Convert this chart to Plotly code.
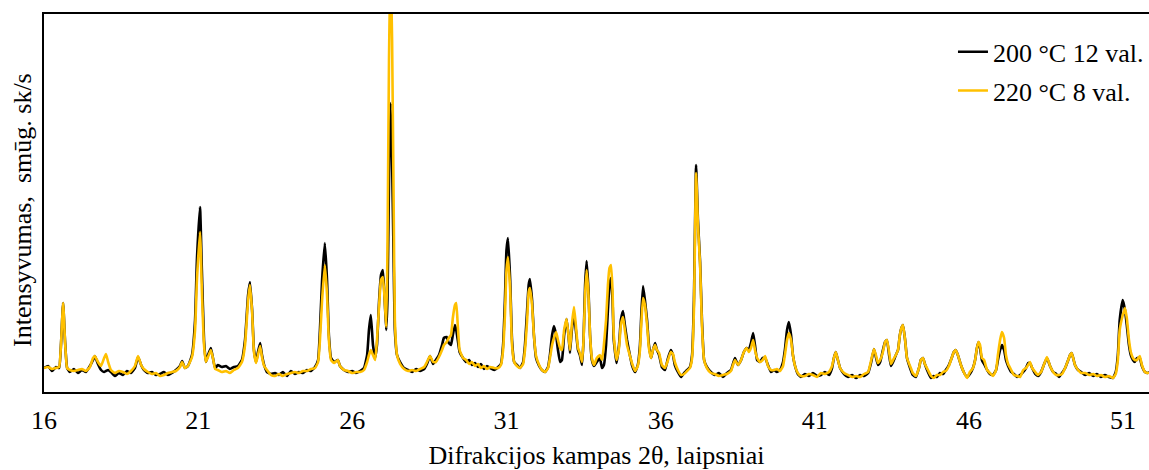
import plotly.graph_objects as go

# Diffraction angle 2θ (degrees)
two_theta = [
    16.00, 16.13, 16.26, 16.39, 16.49, 16.55, 16.62, 16.68, 16.75, 16.84, 16.97, 17.10, 17.23, 17.36, 17.49,
    17.59, 17.65, 17.75, 17.85, 17.95, 18.01, 18.08, 18.17, 18.30, 18.43, 18.56, 18.69, 18.82, 18.95, 19.05,
    19.15, 19.24, 19.37, 19.50, 19.63, 19.76, 19.89, 20.02, 20.15, 20.28, 20.41, 20.48, 20.57, 20.67, 20.80,
    20.90, 20.96, 21.06, 21.12, 21.19, 21.25, 21.32, 21.41, 21.48, 21.55, 21.64, 21.77, 21.90, 22.03, 22.16,
    22.29, 22.42, 22.52, 22.62, 22.68, 22.75, 22.81, 22.88, 22.94, 23.01, 23.07, 23.14, 23.23, 23.36, 23.49,
    23.62, 23.75, 23.88, 24.01, 24.14, 24.27, 24.40, 24.53, 24.66, 24.79, 24.89, 24.95, 25.02, 25.11, 25.18,
    25.24, 25.31, 25.41, 25.53, 25.60, 25.73, 25.86, 25.99, 26.12, 26.25, 26.38, 26.48, 26.54, 26.60, 26.67,
    26.74, 26.80, 26.87, 26.93, 26.99, 27.05, 27.10, 27.14, 27.19, 27.24, 27.29, 27.34, 27.38, 27.45, 27.55,
    27.68, 27.81, 27.94, 28.07, 28.20, 28.33, 28.42, 28.52, 28.62, 28.71, 28.81, 28.91, 28.97, 29.06, 29.13,
    29.20, 29.26, 29.33, 29.37, 29.42, 29.48, 29.59, 29.69, 29.79, 29.88, 29.98, 30.08, 30.17, 30.27, 30.37,
    30.47, 30.60, 30.73, 30.82, 30.89, 30.95, 31.00, 31.05, 31.12, 31.18, 31.25, 31.34, 31.44, 31.54, 31.60,
    31.67, 31.72, 31.76, 31.83, 31.89, 31.96, 32.06, 32.15, 32.25, 32.35, 32.41, 32.48, 32.54, 32.61, 32.67,
    32.74, 32.80, 32.87, 32.95, 33.01, 33.06, 33.12, 33.19, 33.25, 33.32, 33.38, 33.45, 33.50, 33.55, 33.60,
    33.66, 33.71, 33.77, 33.84, 33.93, 34.03, 34.10, 34.16, 34.23, 34.29, 34.34, 34.39, 34.44, 34.48, 34.57,
    34.65, 34.71, 34.78, 34.84, 34.91, 34.97, 35.07, 35.17, 35.26, 35.33, 35.38, 35.43, 35.49, 35.56, 35.62,
    35.69, 35.75, 35.82, 35.88, 35.95, 36.04, 36.14, 36.24, 36.33, 36.40, 36.46, 36.56, 36.66, 36.76, 36.86,
    36.95, 37.02, 37.08, 37.15, 37.21, 37.28, 37.34, 37.41, 37.50, 37.63, 37.76, 37.89, 38.02, 38.15, 38.28,
    38.41, 38.51, 38.61, 38.70, 38.79, 38.86, 38.93, 39.00, 39.06, 39.13, 39.22, 39.31, 39.39, 39.48, 39.58,
    39.68, 39.77, 39.87, 39.97, 40.03, 40.10, 40.16, 40.23, 40.29, 40.36, 40.45, 40.55, 40.68, 40.81, 40.94,
    41.07, 41.20, 41.33, 41.46, 41.56, 41.62, 41.68, 41.75, 41.82, 41.95, 42.08, 42.21, 42.34, 42.47, 42.60,
    42.73, 42.83, 42.92, 42.99, 43.05, 43.12, 43.21, 43.28, 43.34, 43.41, 43.47, 43.54, 43.63, 43.70, 43.76,
    43.81, 43.86, 43.93, 43.99, 44.09, 44.18, 44.28, 44.38, 44.44, 44.51, 44.57, 44.67, 44.77, 44.86, 44.96,
    45.06, 45.16, 45.25, 45.35, 45.44, 45.51, 45.57, 45.64, 45.74, 45.83, 45.94, 46.03, 46.13, 46.20, 46.26,
    46.31, 46.36, 46.42, 46.49, 46.59, 46.68, 46.78, 46.88, 46.94, 47.01, 47.07, 47.14, 47.20, 47.27, 47.37,
    47.46, 47.56, 47.66, 47.76, 47.85, 47.92, 47.98, 48.05, 48.15, 48.24, 48.34, 48.44, 48.53, 48.63, 48.73,
    48.83, 48.92, 49.02, 49.12, 49.22, 49.28, 49.33, 49.38, 49.44, 49.54, 49.64, 49.77, 49.90, 50.03, 50.15,
    50.28, 50.41, 50.54, 50.67, 50.76, 50.83, 50.89, 50.99, 51.06, 51.12, 51.19, 51.25, 51.32, 51.38, 51.45,
    51.54, 51.61, 51.71, 51.80, 51.93, 52.06,
]

# Intensity, 200 °C 12 val.
int_200_12 = [
    24, 26, 21, 25, 24, 47, 89, 52, 24, 20, 23, 19, 22, 20, 26,
    32, 36, 28, 22, 20, 21, 22, 20, 16, 19, 17, 21, 19, 24, 35,
    27, 22, 19, 20, 17, 18, 20, 17, 19, 22, 26, 31, 24, 26, 37,
    72, 132, 185, 122, 52, 30, 37, 44, 34, 24, 27, 25, 26, 23, 25,
    26, 32, 52, 97, 110, 82, 42, 30, 40, 49, 37, 27, 20, 18, 19,
    17, 20, 16, 21, 18, 20, 19, 22, 21, 25, 32, 62, 112, 149, 112,
    57, 34, 30, 32, 26, 22, 20, 21, 19, 21, 24, 37, 62, 77, 47,
    34, 47, 92, 117, 122, 92, 62, 92, 212, 289, 232, 132, 62, 37, 30,
    24, 22, 20, 23, 21, 23, 28, 36, 28, 32, 37, 47, 54, 55, 49,
    47, 57, 67, 62, 52, 40, 34, 30, 32, 27, 29, 25, 28, 23, 26,
    24, 22, 25, 28, 47, 92, 142, 154, 112, 52, 30, 27, 24, 30, 47,
    82, 107, 113, 92, 57, 34, 26, 22, 20, 25, 37, 57, 66, 57, 42,
    30, 32, 57, 73, 57, 39, 62, 77, 62, 42, 37, 27, 52, 107, 131,
    102, 57, 32, 26, 30, 34, 24, 27, 47, 82, 107, 114, 92, 52, 29,
    47, 72, 81, 67, 52, 42, 27, 20, 27, 47, 82, 106, 92, 72, 47,
    34, 42, 49, 42, 37, 25, 22, 34, 42, 37, 27, 20, 15, 19, 22,
    25, 37, 92, 227, 172, 130, 72, 32, 25, 20, 17, 19, 15, 19, 22,
    34, 27, 32, 40, 44, 42, 49, 59, 47, 32, 30, 34, 34, 27, 20,
    22, 20, 22, 30, 42, 62, 70, 57, 37, 26, 18, 15, 18, 16, 19,
    16, 17, 20, 17, 24, 34, 40, 32, 24, 18, 15, 17, 14, 17, 16,
    19, 30, 43, 34, 27, 30, 42, 50, 52, 37, 26, 30, 37, 42, 57,
    64, 67, 52, 34, 24, 17, 15, 24, 32, 34, 28, 20, 14, 16, 15,
    19, 18, 22, 27, 34, 40, 42, 37, 27, 20, 15, 18, 24, 32, 44,
    50, 44, 32, 28, 22, 18, 17, 22, 32, 42, 47, 42, 32, 26, 20,
    18, 15, 17, 20, 24, 29, 29, 24, 18, 16, 20, 28, 34, 26, 20,
    18, 15, 19, 24, 32, 37, 39, 34, 27, 22, 20, 17, 19, 16, 18,
    15, 17, 15, 14, 20, 37, 72, 92, 82, 67, 47, 37, 32, 30, 34,
    34, 26, 20, 19, 21, 19,
]

# Intensity, 220 °C 8 val.
int_220_8 = [
    24, 25, 23, 24, 25, 47, 89, 52, 24, 22, 21, 22, 23, 21, 25,
    34, 36, 30, 26, 34, 38, 30, 22, 19, 21, 20, 18, 21, 26, 36,
    27, 23, 20, 18, 19, 16, 17, 19, 20, 21, 25, 30, 24, 26, 35,
    62, 112, 160, 102, 47, 30, 35, 42, 34, 23, 22, 20, 21, 19, 22,
    24, 30, 47, 92, 107, 80, 40, 29, 37, 46, 35, 26, 22, 17, 16,
    18, 16, 18, 19, 20, 19, 21, 21, 23, 24, 30, 52, 92, 127, 97,
    52, 32, 29, 32, 26, 22, 21, 19, 20, 20, 22, 30, 37, 42, 37,
    32, 52, 87, 112, 115, 92, 65, 142, 332, 430, 352, 192, 72, 37, 28,
    23, 21, 22, 21, 23, 25, 30, 36, 30, 30, 35, 42, 47, 50, 54,
    57, 74, 87, 89, 67, 42, 34, 32, 28, 30, 26, 28, 24, 26, 23,
    25, 24, 24, 27, 42, 77, 122, 135, 102, 47, 30, 26, 24, 28, 42,
    72, 100, 104, 87, 57, 36, 27, 22, 20, 24, 34, 47, 54, 60, 52,
    44, 42, 62, 73, 57, 42, 67, 85, 67, 44, 39, 30, 52, 97, 122,
    97, 57, 34, 27, 34, 37, 32, 47, 72, 107, 124, 127, 102, 57, 32,
    44, 67, 75, 62, 47, 40, 29, 21, 26, 42, 72, 94, 87, 67, 44,
    34, 42, 47, 42, 39, 27, 24, 32, 40, 38, 30, 22, 17, 18, 21,
    24, 34, 82, 219, 167, 127, 67, 32, 24, 19, 18, 16, 17, 18, 21,
    32, 27, 32, 40, 44, 40, 44, 52, 42, 34, 30, 32, 36, 26, 22,
    22, 23, 21, 26, 37, 52, 59, 52, 37, 26, 19, 16, 16, 18, 17,
    15, 19, 18, 20, 26, 34, 40, 32, 24, 19, 17, 15, 16, 15, 18,
    20, 32, 43, 36, 29, 32, 40, 50, 52, 40, 28, 32, 37, 42, 57,
    64, 67, 52, 34, 26, 19, 16, 24, 32, 34, 28, 22, 16, 14, 17,
    17, 20, 21, 26, 34, 40, 42, 37, 27, 20, 14, 20, 24, 32, 44,
    50, 47, 34, 32, 22, 19, 16, 22, 37, 52, 60, 54, 37, 28, 22,
    17, 16, 15, 22, 24, 27, 30, 24, 20, 17, 20, 28, 35, 26, 20,
    17, 17, 18, 24, 32, 37, 39, 34, 27, 22, 19, 19, 17, 18, 16,
    17, 15, 16, 14, 18, 32, 62, 77, 84, 74, 52, 40, 34, 32, 32,
    36, 27, 20, 19, 20, 21,
]

series_names = ["200 °C 12 val.", "220 °C 8 val."]
series_colors = ["#000000", "#FFC000"]
x_ticks = [16, 21, 26, 31, 36, 41, 46, 51]

FONT = "Liberation Serif, Times New Roman, serif"
FS = 26

fig = go.Figure()
for name, ys, col in zip(series_names, [int_200_12, int_220_8], series_colors):
    fig.add_trace(go.Scatter(
        x=two_theta, y=ys, mode="lines", name=name, legendgroup=name,
        line=dict(color=col, width=2.6, shape="spline", smoothing=0.4),
    ))

fig.update_layout(
    width=1149, height=470,
    margin=dict(l=44, r=0, t=14, b=78),
    paper_bgcolor="white", plot_bgcolor="white",
    font=dict(family=FONT, size=FS, color="#000000"),
    showlegend=True,
    legend=dict(
        x=0.8226, y=0.962, xanchor="left", yanchor="top",
        bgcolor="rgba(0,0,0,0)", font=dict(family=FONT, size=FS),
        traceorder="grouped", tracegroupgap=2,
    ),
    xaxis=dict(
        range=[16, 51.84], tickvals=x_ticks, ticktext=[str(t) for t in x_ticks],
        ticks="", showgrid=False, zeroline=False,
        showline=True, linecolor="#000000", linewidth=2, mirror=True,
        tickfont=dict(family=FONT, size=FS), ticklabelstandoff=4,
        title=dict(text="Difrakcijos kampas 2θ, laipsniai",
                   font=dict(family=FONT, size=FS), standoff=12),
    ),
    yaxis=dict(
        range=[0, 378], showticklabels=False, ticks="", showgrid=False,
        zeroline=False, showline=True, linecolor="#000000", linewidth=2,
        mirror=False,
    ),
    annotations=[dict(
        text="Intensyvumas,\u00a0 smūg. sk/s", textangle=-90,
        xref="paper", yref="paper", x=0, y=0.5, xanchor="center", yanchor="middle",
        xshift=-22, yshift=-7, showarrow=False,
        font=dict(family=FONT, size=FS, color="#000000"),
    )],
)

fig.write_html("out.html")
